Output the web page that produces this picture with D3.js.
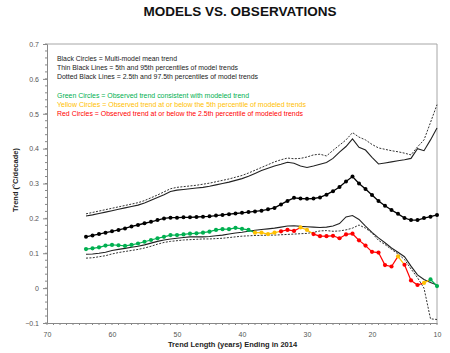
<!DOCTYPE html>
<html><head><meta charset="utf-8">
<script src="https://cdn.jsdelivr.net/npm/d3@7"></script>
<style>body{margin:0;background:#fff;}svg{display:block;}</style>
</head><body>
<svg id="c" width="450" height="353"></svg>
<script>
// Trend length (years) ending in 2014
const lengths = [64,63,62,61,60,59,58,57,56,55,54,53,52,51,50,49,48,47,46,45,44,43,42,41,40,39,38,37,36,35,34,33,32,31,30,29,28,27,26,25,24,23,22,21,20,19,18,17,16,15,14,13,12,11,10];
const meanTrend = [0.147,0.151,0.155,0.159,0.163,0.167,0.171,0.177,0.181,0.186,0.190,0.195,0.200,0.202,0.202,0.203,0.203,0.204,0.205,0.206,0.208,0.210,0.212,0.214,0.216,0.218,0.220,0.222,0.226,0.230,0.240,0.250,0.259,0.257,0.256,0.257,0.260,0.268,0.278,0.290,0.306,0.320,0.300,0.284,0.267,0.250,0.236,0.224,0.213,0.201,0.195,0.195,0.201,0.205,0.210];
const p95 = [0.207,0.210,0.214,0.218,0.222,0.226,0.230,0.234,0.238,0.244,0.252,0.260,0.268,0.277,0.281,0.283,0.285,0.287,0.289,0.292,0.296,0.300,0.304,0.309,0.314,0.321,0.329,0.337,0.344,0.350,0.355,0.361,0.358,0.350,0.346,0.350,0.355,0.360,0.372,0.390,0.406,0.428,0.404,0.396,0.375,0.356,0.359,0.362,0.365,0.368,0.372,0.400,0.394,0.425,0.459];
const p975 = [0.213,0.217,0.221,0.225,0.229,0.233,0.237,0.241,0.245,0.251,0.259,0.267,0.276,0.285,0.289,0.291,0.293,0.295,0.298,0.301,0.305,0.309,0.313,0.318,0.323,0.330,0.338,0.346,0.354,0.362,0.368,0.373,0.371,0.372,0.376,0.382,0.384,0.379,0.395,0.410,0.425,0.446,0.433,0.425,0.412,0.402,0.398,0.394,0.391,0.387,0.382,0.405,0.425,0.475,0.526];
const p5 = [0.097,0.098,0.100,0.103,0.108,0.111,0.114,0.117,0.120,0.124,0.129,0.134,0.138,0.141,0.143,0.145,0.147,0.147,0.147,0.148,0.150,0.152,0.155,0.158,0.160,0.163,0.166,0.168,0.170,0.172,0.175,0.178,0.179,0.177,0.176,0.175,0.174,0.175,0.178,0.185,0.204,0.208,0.197,0.178,0.160,0.144,0.130,0.115,0.103,0.090,0.063,0.038,0.025,0.016,0.009];
const p25 = [0.086,0.087,0.090,0.093,0.098,0.102,0.105,0.108,0.111,0.115,0.120,0.126,0.131,0.134,0.136,0.138,0.139,0.140,0.141,0.141,0.142,0.143,0.145,0.147,0.149,0.150,0.151,0.151,0.152,0.152,0.153,0.154,0.155,0.156,0.157,0.160,0.164,0.165,0.163,0.164,0.167,0.172,0.181,0.172,0.158,0.137,0.125,0.111,0.098,0.082,0.055,0.030,0.000,-0.088,-0.090];
const observed = [0.112,0.114,0.117,0.122,0.124,0.123,0.121,0.124,0.128,0.133,0.138,0.143,0.147,0.152,0.152,0.154,0.156,0.157,0.159,0.162,0.167,0.169,0.169,0.173,0.170,0.167,0.159,0.159,0.155,0.159,0.163,0.167,0.164,0.174,0.167,0.155,0.149,0.149,0.150,0.143,0.154,0.156,0.137,0.122,0.104,0.102,0.066,0.062,0.091,0.067,0.022,0.009,0.015,0.025,0.006];
// G = consistent, Y = at/below 5th pct, R = at/below 2.5th pct
const status = ["G","G","G","G","G","G","G","G","G","G","G","G","G","G","G","G","G","G","G","G","G","G","G","G","G","G","Y","Y","Y","Y","R","R","R","Y","Y","R","R","R","R","R","R","R","R","R","R","R","R","R","Y","R","R","R","Y","G","G"];
const xTicks = [70,60,50,40,30,20,10];
const yTicks = [0.7,0.6,0.5,0.4,0.3,0.2,0.1,0,-0.1];
const legendLines = [
  ["Black Circles = Multi-model mean trend","#222",120],
  ["Thin Black Lines = 5th and 95th percentiles of model trends","#222",181],
  ["Dotted Black Lines = 2.5th and 97.5th percentiles of model trends","#222",201],
  ["Green Circles = Observed trend consistent with modeled trend","#00b050",192],
  ["Yellow Circles = Observed trend at or below the 5th percentile of modeled trends","#ffc000",249],
  ["Red Circles = Observed trend at or below the 2.5th percentile of modeled trends","#ff0000",246]
];
const colorOf = {G:"#00b050", Y:"#ffc000", R:"#ff0000"};

const svg = d3.select("#c");
const x = d3.scaleLinear().domain([70,10]).range([47,437]);
const y = d3.scaleLinear().domain([-0.1,0.7]).range([323,44]);

// title
svg.append("text").attr("x",240).attr("y",15.7).attr("text-anchor","middle")
  .attr("font-family","Liberation Sans, Arial, sans-serif").attr("font-weight","bold")
  .attr("font-size",13.5).attr("fill","#111").text("MODELS VS. OBSERVATIONS");

// frame
svg.append("line").attr("x1",47).attr("x2",437).attr("y1",44).attr("y2",44).attr("stroke","#a6a6a6").attr("stroke-width",1);
svg.append("line").attr("x1",437).attr("x2",437).attr("y1",44).attr("y2",323).attr("stroke","#a6a6a6").attr("stroke-width",1);

// y axis
const yAxis = d3.axisLeft(y).tickValues(yTicks).tickSize(4).tickPadding(4)
  .tickFormat(d => d === 0 ? "0" : d3.format(".1f")(d));
const gy = svg.append("g").attr("transform","translate(47,0)").call(yAxis);
gy.select(".domain").attr("stroke","#888");
gy.selectAll(".tick line").attr("stroke","#888");
gy.selectAll(".tick text").attr("font-family","Liberation Sans, Arial, sans-serif").attr("font-size",7).attr("fill","#555");
const yMinor = d3.range(-0.1,0.7001,0.02);
svg.append("g").selectAll("line").data(yMinor).join("line")
  .attr("x1",45).attr("x2",47).attr("y1",d=>y(d)).attr("y2",d=>y(d)).attr("stroke","#888");

// x axis
const xAxis = d3.axisBottom(x).tickValues(xTicks).tickSize(0).tickPadding(9);
const gx = svg.append("g").attr("transform","translate(0,323)").call(xAxis);
gx.select(".domain").attr("stroke","#888");
gx.selectAll(".tick text").attr("font-family","Liberation Sans, Arial, sans-serif").attr("font-size",7).attr("fill","#555");
const xMinor = d3.range(10,71,1);
svg.append("g").selectAll("line").data(xMinor).join("line")
  .attr("x1",d=>x(d)).attr("x2",d=>x(d)).attr("y1",323).attr("y2",325).attr("stroke","#888");

// axis titles
svg.append("text").attr("x",232.5).attr("y",347).attr("text-anchor","middle")
  .attr("font-family","Liberation Sans, Arial, sans-serif").attr("font-weight","bold").attr("font-size",7.5)
  .attr("fill","#222").text("Trend Length (years) Ending in 2014");
svg.append("text").attr("transform","translate(18,180) rotate(-90)").attr("text-anchor","middle")
  .attr("font-family","Liberation Sans, Arial, sans-serif").attr("font-weight","bold").attr("font-size",7.5)
  .attr("fill","#222").text("Trend (°C/decade)");

// legend
const ly = [61,70,78.7,98.3,107,116];
legendLines.forEach((l,i) => {
  svg.append("text").attr("x",57).attr("y",ly[i]).attr("font-family","Liberation Sans, Arial, sans-serif")
    .attr("font-size",7).attr("fill",l[1]).attr("textLength",l[2]).attr("lengthAdjust","spacingAndGlyphs").text(l[0]);
});

const line = d3.line().x(d=>x(d[0])).y(d=>y(d[1]));
const pts = arr => lengths.map((L,i)=>[L,arr[i]]);

// percentile lines
[p975,p25].forEach(a => {
  svg.append("path").attr("d",line(pts(a))).attr("fill","none").attr("stroke","#333")
    .attr("stroke-width",1).attr("stroke-dasharray","2,1.4");
});
[p95,p5].forEach(a => {
  svg.append("path").attr("d",line(pts(a))).attr("fill","none").attr("stroke","#222").attr("stroke-width",1.1);
});

// mean
svg.append("path").attr("d",line(pts(meanTrend))).attr("fill","none").attr("stroke","#000").attr("stroke-width",1.3);
svg.append("g").selectAll("circle").data(pts(meanTrend)).join("circle")
  .attr("cx",d=>x(d[0])).attr("cy",d=>y(d[1])).attr("r",2).attr("fill","#000");

// observed
const obs = pts(observed);
const segs = d3.range(obs.length-1).map(i => ({a:obs[i], b:obs[i+1], c:colorOf[status[i]]}));
svg.append("g").selectAll("line").data(segs).join("line")
  .attr("x1",d=>x(d.a[0])).attr("y1",d=>y(d.a[1])).attr("x2",d=>x(d.b[0])).attr("y2",d=>y(d.b[1]))
  .attr("stroke",d=>d.c).attr("stroke-width",1.2);
svg.append("g").selectAll("circle").data(obs).join("circle")
  .attr("cx",d=>x(d[0])).attr("cy",d=>y(d[1])).attr("r",2.1).attr("fill",(d,i)=>colorOf[status[i]]);
</script>
</body></html>
